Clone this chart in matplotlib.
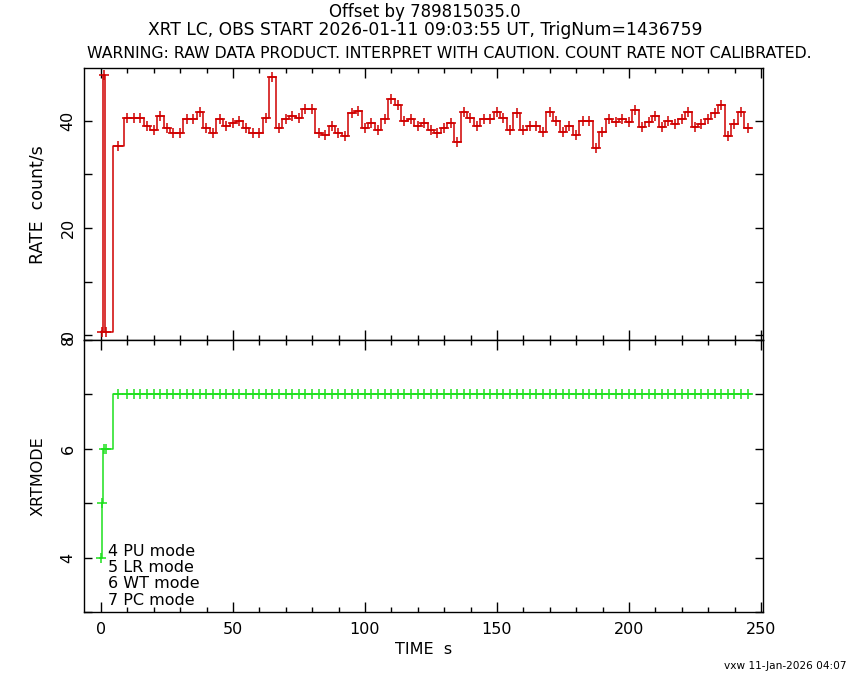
import numpy as np
import matplotlib
matplotlib.use("Agg")
import matplotlib.pyplot as plt
from matplotlib.ticker import MultipleLocator

# --- data ---
# early short bins of the rate curve
rate_t_early = [0.45, 1.2, 1.9]
rate_hw_early = [0.35, 0.4, 0.3]
rate_early = [0.5, 48.6, 0.5]

# first full bin (started mid-bin) then regular 2.5 s bins
bin_first_t = 6.6
bin_first_hw = 2.0
bin_start = 9.95
bin_width = 2.5

rate_main = [
    35.4, 40.6, 40.6, 40.6, 39.1, 38.3, 41.0, 38.6, 37.8, 37.8, 40.3, 40.3, 41.6, 38.6, 37.8, 40.3, 39.1, 39.6, 40.0,
    38.6, 37.8, 37.8, 40.6, 48.2, 38.6, 40.3, 41.0, 40.6, 42.25, 42.25, 37.8, 37.4, 39.1, 37.8, 37.1, 41.4, 41.9, 38.6,
    39.6, 38.3, 40.3, 44.1, 43.0, 40.0, 40.3, 39.1, 39.6, 38.3, 37.8, 38.6, 39.6, 36.1, 41.75, 40.6, 39.1, 40.3, 40.3, 41.75,
    40.6, 38.3, 41.4, 38.3, 39.1, 39.1, 37.9, 41.75, 40.0, 37.9, 39.1, 37.4, 40.0, 40.0, 34.9, 37.9, 40.3, 39.9, 40.3, 39.9,
    42.1, 38.9, 39.9, 41.0, 38.9, 40.0, 39.4, 40.3, 41.75, 38.9, 39.4, 40.3, 41.4, 43.0, 37.1, 39.4, 41.75, 38.6,
]

mode_t_early = [0.1, 0.45, 1.1, 1.75]
mode_hw_early = [0.3, 0.05, 0.35, 0.3]
mode_early = [4, 5, 6, 6]
mode_main = [7] * len(rate_main)

mode_legend = ["4 PU mode", "5 LR mode", "6 WT mode", "7 PC mode"]

title1 = "Offset by 789815035.0"
title2 = "XRT LC, OBS START 2026-01-11 09:03:55 UT, TrigNum=1436759"
title3 = "WARNING: RAW DATA PRODUCT. INTERPRET WITH CAUTION. COUNT RATE NOT CALIBRATED."
stamp = "vxw 11-Jan-2026 04:07"

RED = "#d00000"
GREEN = "#1ee01e"

n_main = len(rate_main)
t_main = np.concatenate([[bin_first_t], bin_start + bin_width * np.arange(n_main - 1)])
hw_main = np.concatenate([[bin_first_hw], np.full(n_main - 1, bin_width / 2)])


def step_path(t, hw, y):
    # horizontal across each bin, gaps held at previous level (like qdp "line step")
    t = np.asarray(t); hw = np.asarray(hw); y = np.asarray(y)
    left = t - hw
    xs = np.append(left, t[-1] + hw[-1])
    ys = np.append(y, y[-1])
    return xs, ys


fig = plt.figure(figsize=(8.5, 6.8), dpi=100)
ax1 = fig.add_axes([84 / 850, 1 - 340 / 680, 679 / 850, 272 / 680])
ax2 = fig.add_axes([84 / 850, 1 - 612 / 680, 679 / 850, 272 / 680])

# --- rate panel ---
rt = np.concatenate([rate_t_early, t_main])
rh = np.concatenate([rate_hw_early, hw_main])
ry = np.concatenate([rate_early, rate_main])
xs, ys = step_path(rt, rh, ry)
ax1.step(xs, ys, where="post", color=RED, lw=1.1)
ax1.plot(rt, ry, "+", color=RED, ms=7, mew=1.1)
ax1.set_ylim(-0.93, 49.9)
ax1.yaxis.set_major_locator(MultipleLocator(20))
ax1.yaxis.set_minor_locator(MultipleLocator(10))

# --- mode panel ---
mt = np.concatenate([mode_t_early, t_main])
mh = np.concatenate([mode_hw_early, hw_main])
my = np.concatenate([mode_early, mode_main])
xs, ys = step_path(mt, mh, my)
ax2.step(xs, ys, where="post", color=GREEN, lw=1.1)
ax2.plot(mt, my, "+", color=GREEN, ms=7, mew=1.1)
ax2.set_ylim(3.0, 8.0)
ax2.yaxis.set_major_locator(MultipleLocator(2))
ax2.yaxis.set_minor_locator(MultipleLocator(1))

for i, txt in enumerate(mode_legend):
    ax2.text(2.5, 4.12 - i * 0.30, txt, fontsize=11.5, va="center", ha="left")

for ax in (ax1, ax2):
    ax.set_xlim(-6.44, 250.76)
    ax.xaxis.set_major_locator(MultipleLocator(50))
    ax.xaxis.set_minor_locator(MultipleLocator(10))
    ax.tick_params(which="both", direction="in", top=True, right=True, width=1)
    ax.tick_params(axis="x", which="major", length=7)
    ax.tick_params(axis="x", which="minor", length=3.5)
    ax.tick_params(axis="y", which="both", length=6)
    ax.tick_params(axis="y", labelrotation=90, pad=6, labelsize=11.5)
    ax.tick_params(axis="x", pad=7, labelsize=11.5)
    for lab in ax.get_yticklabels():
        lab.set_va("center")
    for s in ax.spines.values():
        s.set_linewidth(1)

ax1.tick_params(axis="x", labelbottom=False)
ax2.set_xlabel("TIME  s", fontsize=11.5, labelpad=4)

fig.text(38 / 850, 1 - 205 / 680, "RATE  count/s", rotation=90, ha="center", va="center", fontsize=12.5)
fig.text(38 / 850, 1 - 476 / 680, "XRTMODE", rotation=90, ha="center", va="center", fontsize=11.5)

fig.text(425 / 850, 1 - 12 / 680, title1, ha="center", va="center", fontsize=12)
fig.text(425 / 850, 1 - 30 / 680, title2, ha="center", va="center", fontsize=12.3)
fig.text(449 / 850, 1 - 53 / 680, title3, ha="center", va="center", fontsize=11.3)
fig.text(847 / 850, 1 - 666 / 680, stamp, ha="right", va="center", fontsize=7.6)

fig.savefig("out.png", dpi=100)
